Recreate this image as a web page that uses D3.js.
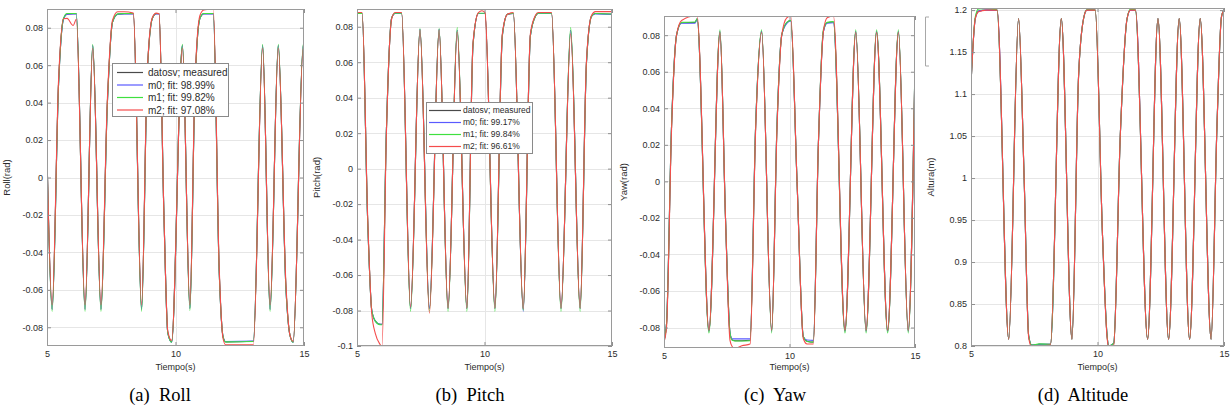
<!DOCTYPE html>
<head>
<meta charset="utf-8">
<style>
    body { margin: 0; background: #fff; }
    text { font-family: "Liberation Sans", Arial, sans-serif; fill: #2b2b2b; }
    .tick text { font-size: 9px; }
    .axis line { stroke: #8f8f8f; }
    .axis path { display: none; }
    .grid { stroke: #e6e6e6; stroke-width: 1; }
    .frame { fill: none; stroke: #9a9a9a; stroke-width: 1; }
    .series { fill: none; stroke-width: 1.1; }
    .caption { font-family: "Liberation Serif", "Times New Roman", serif; font-size: 18.5px; fill: #000; white-space: pre; }
</style>
</head>
<body>
    <script src="https://cdn.jsdelivr.net/npm/d3@7"></script>
    <script>

    //////////////////////////
    ////////// DATA //////////
    //////////////////////////

    const xTicks = [5, 10, 15];
    const seriesNames = ['datosv; measured', 'm0', 'm1', 'm2'];
    const seriesColors = ['#4a4a4a', '#5a5aff', '#3fe03f', '#f54c4c'];

    // (a) Roll
    const rollTime = [5.00, 5.20, 5.45, 5.64, 5.78, 6.02, 6.14, 6.48, 6.78, 7.10, 7.35, 7.55, 7.75, 8.00, 8.36,
        8.68, 8.90, 9.10, 9.25, 9.36, 9.55, 9.70, 9.85, 10.27, 10.56, 10.75, 10.95, 11.10, 11.47, 11.70,
        11.85, 11.95, 13.03, 13.39, 13.68, 14.00, 14.30, 14.45, 14.58, 14.97, 15.00];
    const rollMeasured = [0.012, -0.0705, 0.050, 0.0845, 0.0872, 0.0875, 0.0875, -0.0705, 0.0705, -0.0705, 0.040, 0.083, 0.0872, 0.0875, 0.0875,
        -0.0705, 0.055, 0.085, 0.0875, 0.0875, -0.020, -0.083, -0.0878, 0.0705, -0.0700, 0.045, 0.085, 0.0875, 0.0875, -0.050,
        -0.085, -0.0878, -0.0875, 0.0705, -0.0705, 0.0705, -0.060, -0.084, -0.0878, 0.0705, 0.067];
    const rollM0 = [0.012, -0.0705, 0.050, 0.0845, 0.0872, 0.0874, 0.0874, -0.0705, 0.0705, -0.0705, 0.040, 0.083, 0.0872, 0.0874, 0.0874,
        -0.0705, 0.055, 0.085, 0.0874, 0.0874, -0.020, -0.083, -0.0880, 0.0705, -0.0700, 0.045, 0.085, 0.0874, 0.0874, -0.050,
        -0.085, -0.0876, -0.0874, 0.0705, -0.0705, 0.0705, -0.060, -0.084, -0.0880, 0.0705, 0.067];
    const rollM1 = [0.012, -0.0715, 0.050, 0.0850, 0.0876, 0.0876, 0.0876, -0.0715, 0.0712, -0.0715, 0.040, 0.083, 0.0874, 0.0876, 0.0876,
        -0.0715, 0.055, 0.085, 0.0876, 0.0876, -0.020, -0.083, -0.0880, 0.0712, -0.0712, 0.045, 0.085, 0.0876, 0.0876, -0.050,
        -0.085, -0.0878, -0.0876, 0.0712, -0.0715, 0.0712, -0.060, -0.084, -0.0880, 0.0712, 0.068];
    const rollM2 = [0.012, -0.068, 0.052, 0.0848, 0.0850, 0.0812, 0.0845, -0.068, 0.069, -0.068, 0.042, 0.084, 0.0885, 0.0885, 0.0878,
        -0.068, 0.056, 0.0855, 0.0878, 0.0875, -0.020, -0.082, -0.0870, 0.069, -0.068, 0.047, 0.0865, 0.0895, 0.0900, -0.048,
        -0.086, -0.0893, -0.0893, 0.069, -0.068, 0.069, -0.058, -0.084, -0.0875, 0.069, 0.066];
    const rollTicks = [-0.08, -0.06, -0.04, -0.02, 0, 0.02, 0.04, 0.06, 0.08];
    const rollLegend = ['datosv; measured', 'm0; fit: 98.99%', 'm1; fit: 99.82%', 'm2; fit: 97.08%'];

    // (b) Pitch
    const pitchTime = [5.00, 5.20, 5.42, 5.58, 5.72, 5.90, 5.98, 6.15, 6.36, 6.49, 6.75, 7.10, 7.47, 7.84, 8.22,
        8.57, 8.93, 9.31, 9.55, 9.76, 9.90, 10.02, 10.41, 10.70, 10.90, 11.13, 11.52, 11.80, 12.00, 12.10,
        12.63, 13.00, 13.38, 13.75, 14.00, 14.20, 14.35, 15.00];
    const pitchMeasured = [0.0875, 0.0875, -0.030, -0.080, -0.086, -0.0878, -0.0878, 0.020, 0.085, 0.0875, 0.0875, -0.079, 0.0785, -0.079, 0.0785,
        -0.079, 0.078, -0.079, 0.070, 0.0875, 0.0875, 0.0875, -0.079, 0.075, 0.087, 0.0875, -0.0795, 0.075, 0.086, 0.0875,
        0.0875, -0.079, 0.078, -0.079, 0.060, 0.086, 0.0875, 0.0870];
    const pitchM0 = [0.0875, 0.0875, -0.030, -0.080, -0.086, -0.0878, -0.0878, 0.020, 0.085, 0.0875, 0.0875, -0.079, 0.0785, -0.079, 0.0785,
        -0.079, 0.078, -0.079, 0.070, 0.0875, 0.0875, 0.0875, -0.079, 0.075, 0.087, 0.0875, -0.0805, 0.075, 0.086, 0.0875,
        0.0875, -0.079, 0.078, -0.079, 0.060, 0.086, 0.0872, 0.0870];
    const pitchM1 = [0.0875, 0.0875, -0.030, -0.080, -0.086, -0.0880, -0.0880, 0.020, 0.085, 0.0876, 0.0876, -0.0805, 0.0790, -0.0805, 0.0790,
        -0.0805, 0.0795, -0.0805, 0.070, 0.0876, 0.0876, 0.0876, -0.0805, 0.075, 0.087, 0.0876, -0.0800, 0.075, 0.086, 0.0876,
        0.0876, -0.0805, 0.0795, -0.0805, 0.060, 0.086, 0.0875, 0.0872];
    const pitchM2 = [0.088, 0.088, -0.028, -0.082, -0.093, -0.099, -0.1005, 0.018, 0.0845, 0.088, 0.088, -0.078, 0.078, -0.0815, 0.078,
        -0.0785, 0.077, -0.0785, 0.071, 0.088, 0.089, 0.088, -0.0785, 0.076, 0.087, 0.088, -0.0790, 0.076, 0.0865, 0.088,
        0.088, -0.0785, 0.076, -0.0785, 0.061, 0.0865, 0.0885, 0.0885];
    const pitchTicks = [-0.1, -0.08, -0.06, -0.04, -0.02, 0, 0.02, 0.04, 0.06, 0.08];
    const pitchLegend = ['datosv; measured', 'm0; fit: 99.17%', 'm1; fit: 99.84%', 'm2; fit: 96.61%'];

    // (c) Yaw
    const yawTime = [5.00, 5.10, 5.30, 5.50, 5.70, 6.24, 6.32, 6.79, 7.23, 7.45, 7.63, 7.72, 7.83, 8.10, 8.43,
        8.65, 8.89, 9.29, 9.50, 9.69, 9.89, 10.05, 10.30, 10.55, 10.70, 10.95, 11.15, 11.35, 11.50, 11.75,
        12.21, 12.64, 13.05, 13.47, 13.91, 14.34, 14.73, 15.00];
    const yawMeasured = [-0.087, -0.078, 0.030, 0.080, 0.0868, 0.0870, 0.0890, -0.082, 0.082, -0.020, -0.083, -0.0868, -0.0872, -0.0872, -0.0870,
        0.030, 0.082, -0.082, 0.030, 0.080, 0.0868, 0.0880, 0.000, -0.085, -0.0875, -0.0880, 0.020, 0.082, 0.0868, 0.0872,
        -0.082, 0.082, -0.082, 0.082, -0.082, 0.082, -0.082, 0.065];
    const yawM0 = [-0.087, -0.078, 0.030, 0.080, 0.0865, 0.0865, 0.0888, -0.082, 0.082, -0.020, -0.083, -0.0862, -0.0862, -0.0862, -0.0862,
        0.030, 0.082, -0.082, 0.030, 0.080, 0.0865, 0.0878, 0.000, -0.085, -0.0868, -0.0870, 0.020, 0.082, 0.0865, 0.0868,
        -0.082, 0.082, -0.082, 0.082, -0.082, 0.082, -0.082, 0.065];
    const yawM1 = [-0.087, -0.078, 0.030, 0.080, 0.0870, 0.0872, 0.0890, -0.083, 0.083, -0.020, -0.083, -0.0870, -0.0874, -0.0874, -0.0872,
        0.030, 0.083, -0.083, 0.030, 0.080, 0.0870, 0.0880, 0.000, -0.085, -0.0876, -0.0880, 0.020, 0.083, 0.0870, 0.0874,
        -0.083, 0.083, -0.083, 0.083, -0.083, 0.083, -0.083, 0.066];
    const yawM2 = [-0.088, -0.080, 0.028, 0.080, 0.0880, 0.0905, 0.0905, -0.0815, 0.0815, -0.020, -0.087, -0.0905, -0.0915, -0.0900, -0.0890,
        0.028, 0.0815, -0.0815, 0.028, 0.080, 0.0895, 0.0905, 0.000, -0.086, -0.0890, -0.0890, 0.020, 0.082, 0.0895, 0.0905,
        -0.0815, 0.0815, -0.0815, 0.0815, -0.0815, 0.0815, -0.0815, 0.064];
    const yawTicks = [-0.08, -0.06, -0.04, -0.02, 0, 0.02, 0.04, 0.06, 0.08];

    // (d) Altitude
    const alturaTime = [5.00, 5.17, 5.30, 5.60, 6.03, 6.49, 6.88, 7.10, 7.28, 7.40, 7.70, 8.14, 8.57, 8.99, 9.25,
        9.45, 9.58, 9.91, 10.20, 10.38, 10.44, 10.64, 10.90, 11.17, 11.30, 11.50, 11.98, 12.39, 12.81, 13.23,
        13.64, 14.06, 14.49, 14.72, 14.90, 15.00];
    const alturaMeasured = [1.112, 1.190, 1.199, 1.200, 1.200, 0.808, 1.190, 1.000, 0.812, 0.801, 0.802, 0.802, 1.190, 0.808, 1.120,
        1.190, 1.200, 1.200, 0.930, 0.812, 0.800, 0.803, 1.050, 1.190, 1.200, 1.200, 0.808, 1.190, 0.808, 1.190,
        0.808, 1.190, 0.808, 1.060, 1.192, 1.200];
    const alturaM0 = [1.112, 1.190, 1.199, 1.200, 1.200, 0.808, 1.190, 1.000, 0.812, 0.801, 0.802, 0.802, 1.190, 0.808, 1.120,
        1.190, 1.200, 1.200, 0.930, 0.812, 0.800, 0.803, 1.050, 1.190, 1.200, 1.200, 0.808, 1.190, 0.808, 1.190,
        0.808, 1.190, 0.808, 1.060, 1.192, 1.200];
    const alturaM1 = [1.112, 1.192, 1.2015, 1.2020, 1.200, 0.808, 1.190, 1.000, 0.812, 0.801, 0.8025, 0.802, 1.190, 0.808, 1.120,
        1.190, 1.2005, 1.200, 0.930, 0.812, 0.800, 0.803, 1.050, 1.190, 1.2010, 1.200, 0.808, 1.190, 0.808, 1.190,
        0.808, 1.190, 0.808, 1.060, 1.192, 1.200];
    const alturaM2 = [1.112, 1.190, 1.198, 1.200, 1.200, 0.808, 1.190, 1.000, 0.810, 0.799, 0.800, 0.801, 1.190, 0.808, 1.120,
        1.190, 1.200, 1.200, 0.930, 0.810, 0.799, 0.801, 1.050, 1.190, 1.200, 1.200, 0.808, 1.190, 0.808, 1.190,
        0.808, 1.190, 0.808, 1.060, 1.192, 1.200];
    const alturaTicks = [0.8, 0.85, 0.9, 0.95, 1, 1.05, 1.1, 1.15, 1.2];

    const captions = ['(a)  Roll', '(b)  Pitch', '(c)  Yaw', '(d)  Altitude'];

    ///////////////////////////
    ////////// SETUP //////////
    ///////////////////////////

    const width = 1232;
    const height = 412;

    let svg = d3.select('body').append('svg')
        .attr('width', width)
        .attr('height', height);

    const panels = [
        { id: 'roll', label: 'Roll(rad)', left: 47, right: 304, top: 9, bottom: 346, yDomain: [-0.09, 0.09],
          time: rollTime, series: [rollMeasured, rollM0, rollM1, rollM2], ticks: rollTicks, caption: captions[0], capX: 160,
          legend: { labels: rollLegend, x: 112, y: 63, w: 116, h: 53, font: 10, lineStart: 5, lineEnd: 31, textX: 36, row0: 9.5, step: 12.5 } },
        { id: 'pitch', label: 'Pitch(rad)', left: 357, right: 612, top: 9, bottom: 346, yDomain: [-0.1, 0.09],
          time: pitchTime, series: [pitchMeasured, pitchM0, pitchM1, pitchM2], ticks: pitchTicks, caption: captions[1], capX: 470,
          legend: { labels: pitchLegend, x: 426, y: 102, w: 106, h: 51, font: 8.5, lineStart: 3, lineEnd: 35, textX: 37, row0: 8.5, step: 12 } },
        { id: 'yaw', label: 'Yaw(rad)', left: 664, right: 915, top: 16, bottom: 348, yDomain: [-0.0912, 0.0905],
          time: yawTime, series: [yawMeasured, yawM0, yawM1, yawM2], ticks: yawTicks, caption: captions[2], capX: 775 },
        { id: 'altura', label: 'Altura(m)', left: 971, right: 1224, top: 8, bottom: 346, yDomain: [0.8, 1.2025],
          time: alturaTime, series: [alturaMeasured, alturaM0, alturaM1, alturaM2], ticks: alturaTicks, caption: captions[3], capX: 1083 }
    ];

    const fmt = d => String(+d.toFixed(4));

    //////////////////////////
    ////////// DRAW //////////
    //////////////////////////

    panels.forEach(drawPanel);

    // left edge of a legend box cut off next to the yaw plot
    svg.append('path')
        .attr('d', 'M929,17H925.5V66H929')
        .attr('fill', 'none')
        .attr('stroke', '#a8a8a8');

    function drawPanel(p) {
        const x = d3.scaleLinear().domain([5, 15]).range([p.left, p.right]);
        const y = d3.scaleLinear().domain(p.yDomain).range([p.bottom, p.top]);
        const w = p.right - p.left;
        const h = p.bottom - p.top;
        const g = svg.append('g');

        g.append('clipPath').attr('id', 'clip-' + p.id)
            .append('rect')
            .attr('x', p.left).attr('y', p.top)
            .attr('width', w).attr('height', h);

        // grid
        g.append('g').selectAll('line')
            .data(p.ticks)
            .join('line')
            .attr('class', 'grid')
            .attr('x1', p.left).attr('x2', p.right)
            .attr('y1', d => Math.round(y(d)) + 0.5).attr('y2', d => Math.round(y(d)) + 0.5);
        g.append('g').selectAll('line')
            .data(xTicks.slice(1, -1))
            .join('line')
            .attr('class', 'grid')
            .attr('x1', d => Math.round(x(d)) + 0.5).attr('x2', d => Math.round(x(d)) + 0.5)
            .attr('y1', p.top).attr('y2', p.bottom);

        // series
        const line = d3.line()
            .curve(d3.curveMonotoneX)
            .x(d => x(d.t))
            .y(d => y(d.v));

        g.append('g')
            .attr('clip-path', 'url(#clip-' + p.id + ')')
            .selectAll('path')
            .data(p.series)
            .join('path')
            .attr('class', 'series')
            .attr('stroke', (d, i) => seriesColors[i])
            .attr('d', vals => line(p.time.map((t, i) => ({ t: t, v: vals[i] }))));

        // axes, ticks pointing inward on all four sides
        g.append('g').attr('class', 'axis')
            .attr('transform', 'translate(' + p.left + ',0)')
            .call(d3.axisLeft(y).tickValues(p.ticks).tickSizeInner(-4).tickSizeOuter(0).tickPadding(4).tickFormat(fmt));
        g.append('g').attr('class', 'axis')
            .attr('transform', 'translate(' + p.right + ',0)')
            .call(d3.axisRight(y).tickValues(p.ticks).tickSizeInner(-4).tickSizeOuter(0).tickFormat(''));
        g.append('g').attr('class', 'axis')
            .attr('transform', 'translate(0,' + p.bottom + ')')
            .call(d3.axisBottom(x).tickValues(xTicks).tickSizeInner(-4).tickSizeOuter(0).tickPadding(5).tickFormat(fmt));
        g.append('g').attr('class', 'axis')
            .attr('transform', 'translate(0,' + p.top + ')')
            .call(d3.axisTop(x).tickValues(xTicks).tickSizeInner(-4).tickSizeOuter(0).tickFormat(''));

        g.append('rect')
            .attr('class', 'frame')
            .attr('x', p.left + 0.5).attr('y', p.top + 0.5)
            .attr('width', w - 1).attr('height', h - 1);

        // labels
        g.append('text')
            .attr('x', (p.left + p.right) / 2)
            .attr('y', 370)
            .attr('text-anchor', 'middle')
            .style('font-size', '9px')
            .text('Tiempo(s)');

        g.append('text')
            .attr('transform', 'translate(' + (p.left - 37) + ',' + ((p.top + p.bottom) / 2) + ') rotate(-90)')
            .attr('text-anchor', 'middle')
            .style('font-size', '9.5px')
            .text(p.label);

        g.append('text')
            .attr('class', 'caption')
            .attr('x', p.capX)
            .attr('y', 401)
            .attr('text-anchor', 'middle')
            .text(p.caption);

        if (p.legend) drawLegend(g, p.legend);
    }

    function drawLegend(g, L) {
        const lg = g.append('g').attr('transform', 'translate(' + L.x + ',' + L.y + ')');
        lg.append('rect')
            .attr('x', 0.5).attr('y', 0.5)
            .attr('width', L.w).attr('height', L.h)
            .attr('fill', '#fff')
            .attr('stroke', '#8a8a8a');
        const rows = lg.selectAll('g.row')
            .data(L.labels)
            .join('g')
            .attr('class', 'row')
            .attr('transform', (d, i) => 'translate(0,' + (L.row0 + i * L.step) + ')');
        rows.append('line')
            .attr('x1', L.lineStart).attr('x2', L.lineEnd)
            .attr('stroke', (d, i) => seriesColors[i])
            .attr('stroke-width', 1.2);
        rows.append('text')
            .attr('x', L.textX)
            .attr('dy', '0.35em')
            .style('font-size', L.font + 'px')
            .text(d => d);
    }

    </script>
</body>
